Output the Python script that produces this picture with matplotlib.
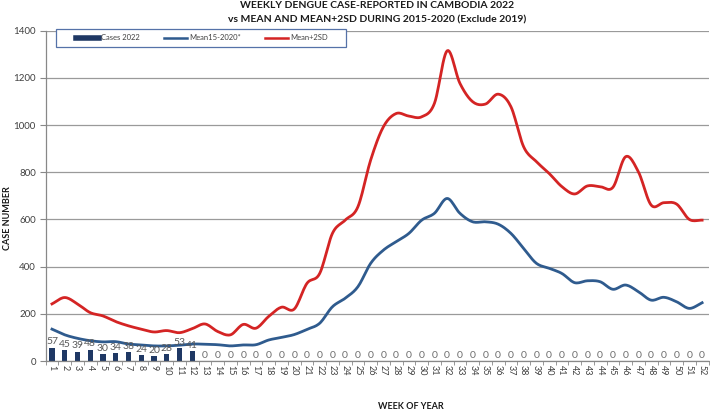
import numpy as np
import matplotlib
matplotlib.use("Agg")
import matplotlib.pyplot as plt
from matplotlib.lines import Line2D
from matplotlib.patches import Rectangle

plt.rcParams['font.family'] = ['Lato', 'DejaVu Sans']

weeks = list(range(1, 53))
cases_2022 = [57, 45, 39, 48, 30, 34, 38, 24, 20, 28, 53, 41] + [0] * 40
mean_15_20 = [135, 111, 96, 86, 81, 82, 72, 68, 64, 64, 67, 72, 71, 69, 64, 68,
              69, 89, 100, 112, 134, 160, 230, 266, 315, 414, 470, 506, 541, 597,
              626, 689, 626, 590, 590, 580, 541, 477, 414, 393, 371, 332, 340, 336,
              304, 322, 294, 258, 270, 251, 223, 247]
mean_2sd = [242, 269, 242, 205, 191, 167, 149, 135, 123, 129, 120, 137, 157, 125,
            111, 155, 139, 189, 228, 220, 329, 371, 541, 597, 654, 852, 993, 1049,
            1038, 1035, 1092, 1315, 1177, 1099, 1089, 1131, 1078, 908, 845, 795,
            739, 708, 742, 739, 736, 866, 802, 661, 671, 665, 600, 597]


def smooth(x, y, n=12):
    # catmull-rom path through the points, like excel's smoothed line
    x = np.asarray(x, float)
    y = np.asarray(y, float)
    px = np.concatenate([[2 * x[0] - x[1]], x, [2 * x[-1] - x[-2]]])
    py = np.concatenate([[2 * y[0] - y[1]], y, [2 * y[-1] - y[-2]]])
    t = np.linspace(0, 1, n, endpoint=False)
    xs, ys = [], []
    for i in range(1, len(px) - 2):
        for p, out in ((px, xs), (py, ys)):
            p0, p1, p2, p3 = p[i - 1], p[i], p[i + 1], p[i + 2]
            out.extend(0.5 * (2 * p1 + (-p0 + p2) * t
                              + (2 * p0 - 5 * p1 + 4 * p2 - p3) * t ** 2
                              + (-p0 + 3 * p1 - 3 * p2 + p3) * t ** 3))
    xs.append(x[-1])
    ys.append(y[-1])
    return np.array(xs), np.array(ys)


fig = plt.figure(figsize=(7.1, 4.11), dpi=100)
ax = fig.add_axes([45.6 / 710, 1 - 361 / 411, (708.5 - 45.6) / 710, (361 - 30.7) / 411])

navy = '#1f3864'
blue = '#2f5b8e'
red = '#d42424'

x = np.arange(len(weeks))
ax.bar(x, cases_2022, width=0.4, color=navy, zorder=2)
sx, sy = smooth(x, mean_15_20)
ax.plot(sx, sy, color=blue, lw=2.0, zorder=3)
sx, sy = smooth(x, mean_2sd)
ax.plot(sx, sy, color=red, lw=2.0, zorder=3)

for xi, v in zip(x, cases_2022):
    ax.text(xi, v + 6, str(v), ha='center', va='bottom', fontsize=7.5,
            color='#595959' if v else '#6e6e6e', zorder=4)

ax.set_xlim(-0.5, len(weeks) - 0.5)
ax.set_ylim(0, 1400)
ax.set_yticks(range(0, 1401, 200))
ax.set_xticks(x)
ax.set_xticklabels([str(w) for w in weeks], rotation=-90, fontsize=6.5, color='#404040')
ax.set_xticks(np.arange(-0.5, len(weeks), 1), minor=True)
ax.tick_params(axis='x', which='major', length=0, pad=3)
ax.tick_params(axis='x', which='minor', length=3, color='#888888')
ax.tick_params(axis='y', labelsize=7, colors='#404040', length=4, pad=3)
ax.tick_params(axis='y', color='#888888')
ax.yaxis.grid(True, color='#9a9a9a', lw=0.9)
ax.set_axisbelow(True)
for side in ['top', 'right']:
    ax.spines[side].set_visible(False)
for side in ['left', 'bottom']:
    ax.spines[side].set_color('#888888')
    ax.spines[side].set_linewidth(0.9)

fig.text(377 / 710, 1 - 6 / 411, 'WEEKLY DENGUE CASE-REPORTED IN CAMBODIA 2022',
         ha='center', va='center', fontsize=7.5, fontweight='bold', color='#1a1a1a')
fig.text(377 / 710, 1 - 19.5 / 411, 'vs MEAN AND MEAN+2SD DURING 2015-2020 (Exclude 2019)',
         ha='center', va='center', fontsize=7.5, fontweight='bold', color='#1a1a1a')
fig.text(411 / 710, 1 - 406 / 411, 'WEEK OF YEAR', ha='center', va='center',
         fontsize=6.5, fontweight='bold', color='#1a1a1a')
fig.text(7 / 710, 1 - 218 / 411, 'CASE NUMBER', ha='center', va='center', rotation=90,
         fontsize=6.5, fontweight='bold', color='#1a1a1a')

# legend box drawn by hand, entries centred inside it
box = Rectangle((56 / 710, 1 - 47 / 411), 290 / 710, 18 / 411, transform=fig.transFigure,
                facecolor='white', edgecolor='#5572a8', lw=0.9, zorder=5)
fig.patches.append(box)
handles = [Line2D([], [], color=navy, lw=4), Line2D([], [], color=blue, lw=1.8),
           Line2D([], [], color=red, lw=1.8)]
leg = fig.legend(handles, ['Cases 2022', 'Mean15-2020*', 'Mean+2SD'], ncol=3,
                 loc='center', bbox_to_anchor=(202 / 710, 1 - 38 / 411),
                 fontsize=5.5, frameon=False, handlelength=3.0, handletextpad=0.3,
                 columnspacing=3.2, labelcolor='#404040')
leg.set_zorder(6)

fig.savefig('out.png', dpi=100)
